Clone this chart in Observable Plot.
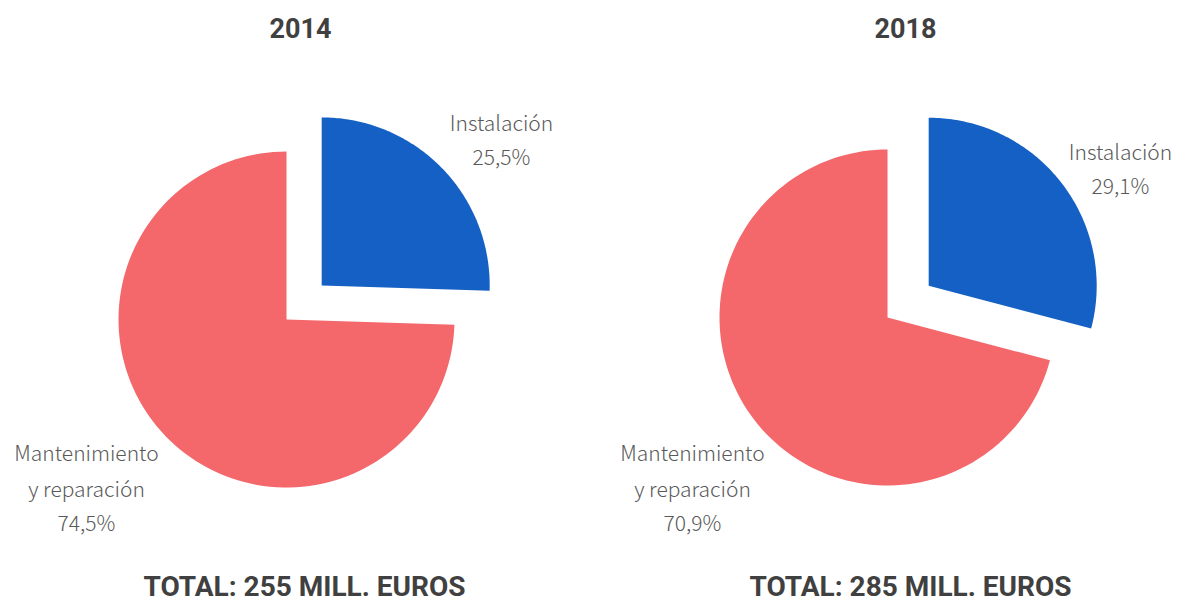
<!DOCTYPE html>
<html>
<head>
<meta charset="utf-8">
<script src="https://cdn.jsdelivr.net/npm/d3@7"></script>
<script src="https://cdn.jsdelivr.net/npm/@observablehq/plot@0.6"></script>
<style>
  html, body { margin: 0; padding: 0; background: #ffffff; }
  #chart svg { display: block; }
</style>
</head>
<body>
<div id="chart"></div>
<script>
// ---- data ----
const years = ["2014", "2018"];
const categories = ["Instalación", "Mantenimiento y reparación"];
const instalacion = [25.5, 29.1];
const mantenimiento = [74.5, 70.9];
const totals = [255, 285];

// ---- layout (styling, not data) ----
const W = 1177, H = 604;
const centers = [[286, 319], [887, 317]];
const radius = 168;
const explode = [49, 52];
const colors = { "Instalación": "#1560C4", "Mantenimiento y reparación": "#F4676B" };

function arcPoints(pie, cat, a0, a1, cx, cy, off) {
  const mid = (a0 + a1) / 2;
  const ox = cx + off * Math.sin(mid), oy = cy - off * Math.cos(mid);
  const pts = [{pie, cat, x: ox, y: oy}];
  const n = 120;
  for (let i = 0; i <= n; i++) {
    const t = a0 + (a1 - a0) * i / n;
    pts.push({pie, cat, x: ox + radius * Math.sin(t), y: oy - radius * Math.cos(t)});
  }
  pts.push({pie, cat, x: ox, y: oy});
  return pts;
}

const slices = [];
years.forEach((yr, i) => {
  const [cx, cy] = centers[i];
  const tot = instalacion[i] + mantenimiento[i];
  const a1 = instalacion[i] / tot * 2 * Math.PI;
  slices.push(...arcPoints(yr, categories[0], 0, a1, cx, cy, explode[i]));
  slices.push(...arcPoints(yr, categories[1], a1, 2 * Math.PI, cx, cy, 0));
});

const fmt = v => v.toFixed(1).replace(".", ",") + "%";

// label positions (layout)
const instPos = [[501, 124], [1120, 153]];
const mantPos = [[86, 454], [692, 454]];
const titleY = 29, totalY = 587;

const labels = [];
years.forEach((yr, i) => {
  labels.push({x: instPos[i][0], y: instPos[i][1], t: categories[0]});
  labels.push({x: instPos[i][0], y: instPos[i][1] + 34, t: fmt(instalacion[i])});
  labels.push({x: mantPos[i][0], y: mantPos[i][1], t: "Mantenimiento"});
  labels.push({x: mantPos[i][0], y: mantPos[i][1] + 36, t: "y reparación"});
  labels.push({x: mantPos[i][0], y: mantPos[i][1] + 70, t: fmt(mantenimiento[i])});
});
const titles = years.map((yr, i) => ({x: [300, 905][i], y: titleY, t: yr}));
const totalLabels = totals.map((v, i) => ({x: [304, 910][i], y: totalY, t: `TOTAL: ${v} MILL. EUROS`}));

const chart = Plot.plot({
  width: W,
  height: H,
  margin: 0,
  x: {domain: [0, W], range: [0, W], axis: null},
  y: {domain: [0, H], range: [0, H], axis: null},
  color: {domain: categories, range: categories.map(c => colors[c])},
  style: {background: "#ffffff"},
  marks: [
    Plot.line(slices, {x: "x", y: "y", z: d => d.pie + d.cat, fill: "cat", stroke: "none", curve: "linear"}),
    Plot.text(labels, {x: "x", y: "y", text: "t", fontSize: 21, fill: "#595959",
      fontFamily: "'Noto Sans CJK JP', 'Noto Sans', sans-serif", fontWeight: 300, textAnchor: "middle"}),
    Plot.text(titles, {x: "x", y: "y", text: "t", fontSize: 27, fill: "#404040",
      fontFamily: "Roboto, 'Noto Sans', sans-serif", fontWeight: "bold", textAnchor: "middle"}),
    Plot.text(totalLabels, {x: "x", y: "y", text: "t", fontSize: 28, fill: "#404040",
      fontFamily: "Roboto, 'Noto Sans', sans-serif", fontWeight: "bold", textAnchor: "middle"})
  ]
});
document.getElementById("chart").appendChild(chart);
</script>
</body>
</html>
